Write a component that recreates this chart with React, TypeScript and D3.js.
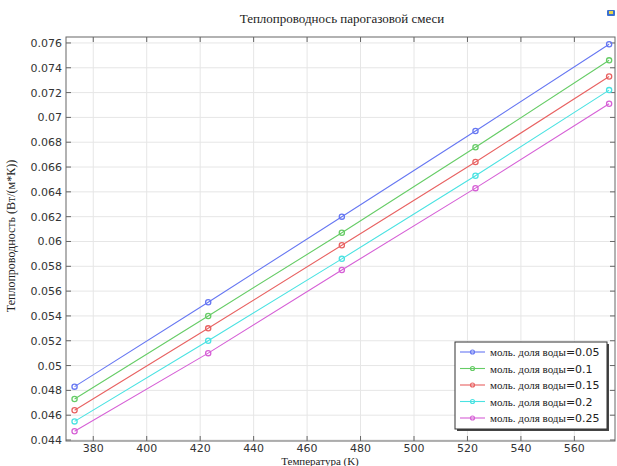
import React from "react";
import * as d3 from "d3";

const temperatures = [373, 423, 473, 523, 573];
const seriesNames = [
  "0.05",
  "0.1",
  "0.15",
  "0.2",
  "0.25",
];
const s005 = [0.0483, 0.0551, 0.0620, 0.0689, 0.0759];
const s010 = [0.0473, 0.0540, 0.0607, 0.0676, 0.0746];
const s015 = [0.0464, 0.0530, 0.0597, 0.0664, 0.0733];
const s020 = [0.0455, 0.0520, 0.0586, 0.0653, 0.0722];
const s025 = [0.0447, 0.0510, 0.0577, 0.0643, 0.0711];
const seriesValues = [s005, s010, s015, s020, s025];
const colors = ["#6677f2", "#66cc66", "#e86262", "#4ae2e2", "#d660d6"];
const xTicks = [380, 400, 420, 440, 460, 480, 500, 520, 540, 560];
const yTicks = [0.044, 0.046, 0.048, 0.05, 0.052, 0.054, 0.056, 0.058, 0.06, 0.062, 0.064, 0.066, 0.068, 0.07, 0.072, 0.074, 0.076];

const W = 617;
const H = 466;
const L = 66, R = 615, T = 37, B = 441;

export default function App() {
  const x = d3.scaleLinear().domain([369.8, 575.2]).range([L, R]);
  const y = d3.scaleLinear().domain([0.04392, 0.07648]).range([B, T]);
  const line = d3.line<number>().x((_, i) => x(temperatures[i])).y((d) => y(d));
  const serif = "'Liberation Serif', 'DejaVu Serif', serif";
  const sans = "'DejaVu Sans', 'Liberation Sans', sans-serif";
  const fmt = (v: number) => String(+v.toFixed(3));
  const legX = 455, legY = 342, legW = 152, legH = 87;
  return (
    <svg width={W} height={H} style={{ position: "absolute", left: 0, top: 0, background: "#fff" }}>
      <rect x={0} y={0} width={W} height={H} fill="#fff" />
      {/* title */}
      <text x={342} y={23} textAnchor="middle" fontFamily={serif} fontSize={13} fill="#222">
        Теплопроводнось парогазовой смеси
      </text>
      {/* icon */}
      <rect x={607} y={10} width={8} height={6} fill="#3b6fd0" rx={1} />
      <rect x={609} y={11} width={4} height={3} fill="#e8d44a" />
      {/* grid */}
      {xTicks.map((t) => (
        <line key={"gx" + t} x1={x(t)} x2={x(t)} y1={T} y2={B} stroke="#e6e6e6" strokeWidth={1} />
      ))}
      {yTicks.map((t) => (
        <line key={"gy" + t} x1={L} x2={R} y1={y(t)} y2={y(t)} stroke="#e6e6e6" strokeWidth={1} />
      ))}
      {/* frame */}
      <rect x={L} y={T} width={R - L} height={B - T} fill="none" stroke="#666" strokeWidth={1} />
      {/* ticks */}
      {xTicks.map((t) => (
        <g key={"tx" + t}>
          <line x1={x(t)} x2={x(t)} y1={B} y2={B - 5} stroke="#666" />
          <line x1={x(t)} x2={x(t)} y1={T} y2={T + 5} stroke="#666" />
          <text x={x(t)} y={B + 11} textAnchor="middle" fontFamily={sans} fontSize={11} fill="#333">
            {t}
          </text>
        </g>
      ))}
      {yTicks.map((t) => (
        <g key={"ty" + t}>
          <line x1={L} x2={L + 5} y1={y(t)} y2={y(t)} stroke="#666" />
          <line x1={R} x2={R - 5} y1={y(t)} y2={y(t)} stroke="#666" />
          <text x={62} y={y(t) + 4} textAnchor="end" fontFamily={sans} fontSize={11} fill="#333">
            {fmt(t)}
          </text>
        </g>
      ))}
      {/* axis labels */}
      <text x={320} y={465} textAnchor="middle" fontFamily={serif} fontSize={11} fill="#222">
        Температура (K)
      </text>
      <text transform="translate(15,236) rotate(-90)" textAnchor="middle" fontFamily={serif} fontSize={12} fill="#222">
        Теплопроводность (Вт/(м*К))
      </text>
      {/* series */}
      {seriesValues.map((vals, si) => (
        <g key={"s" + si}>
          <path d={line(vals) || ""} fill="none" stroke={colors[si]} strokeWidth={1.1} />
          {vals.map((v, i) => (
            <circle key={i} cx={x(temperatures[i])} cy={y(v)} r={2.6} fill="none" stroke={colors[si]} strokeWidth={1.3} />
          ))}
        </g>
      ))}
      {/* legend */}
      <rect x={legX + 2} y={legY + 2} width={legW} height={legH} fill="#444" />
      <rect x={legX} y={legY} width={legW} height={legH} fill="#fff" stroke="#333" strokeWidth={1} />
      {seriesNames.map((n, i) => {
        const ly = legY + 10 + i * 16.5;
        return (
          <g key={"l" + i}>
            <line x1={legX + 5} x2={legX + 30} y1={ly} y2={ly} stroke={colors[i]} strokeWidth={1.1} />
            <circle cx={legX + 17.5} cy={ly} r={2} fill="none" stroke={colors[i]} strokeWidth={1.2} />
            <text x={legX + 35} y={ly + 4} fontSize={11} fill="#222">
              <tspan fontFamily={serif}>моль. доля воды</tspan>
              <tspan fontFamily={sans}>={n}</tspan>
            </text>
          </g>
        );
      })}
    </svg>
  );
}
